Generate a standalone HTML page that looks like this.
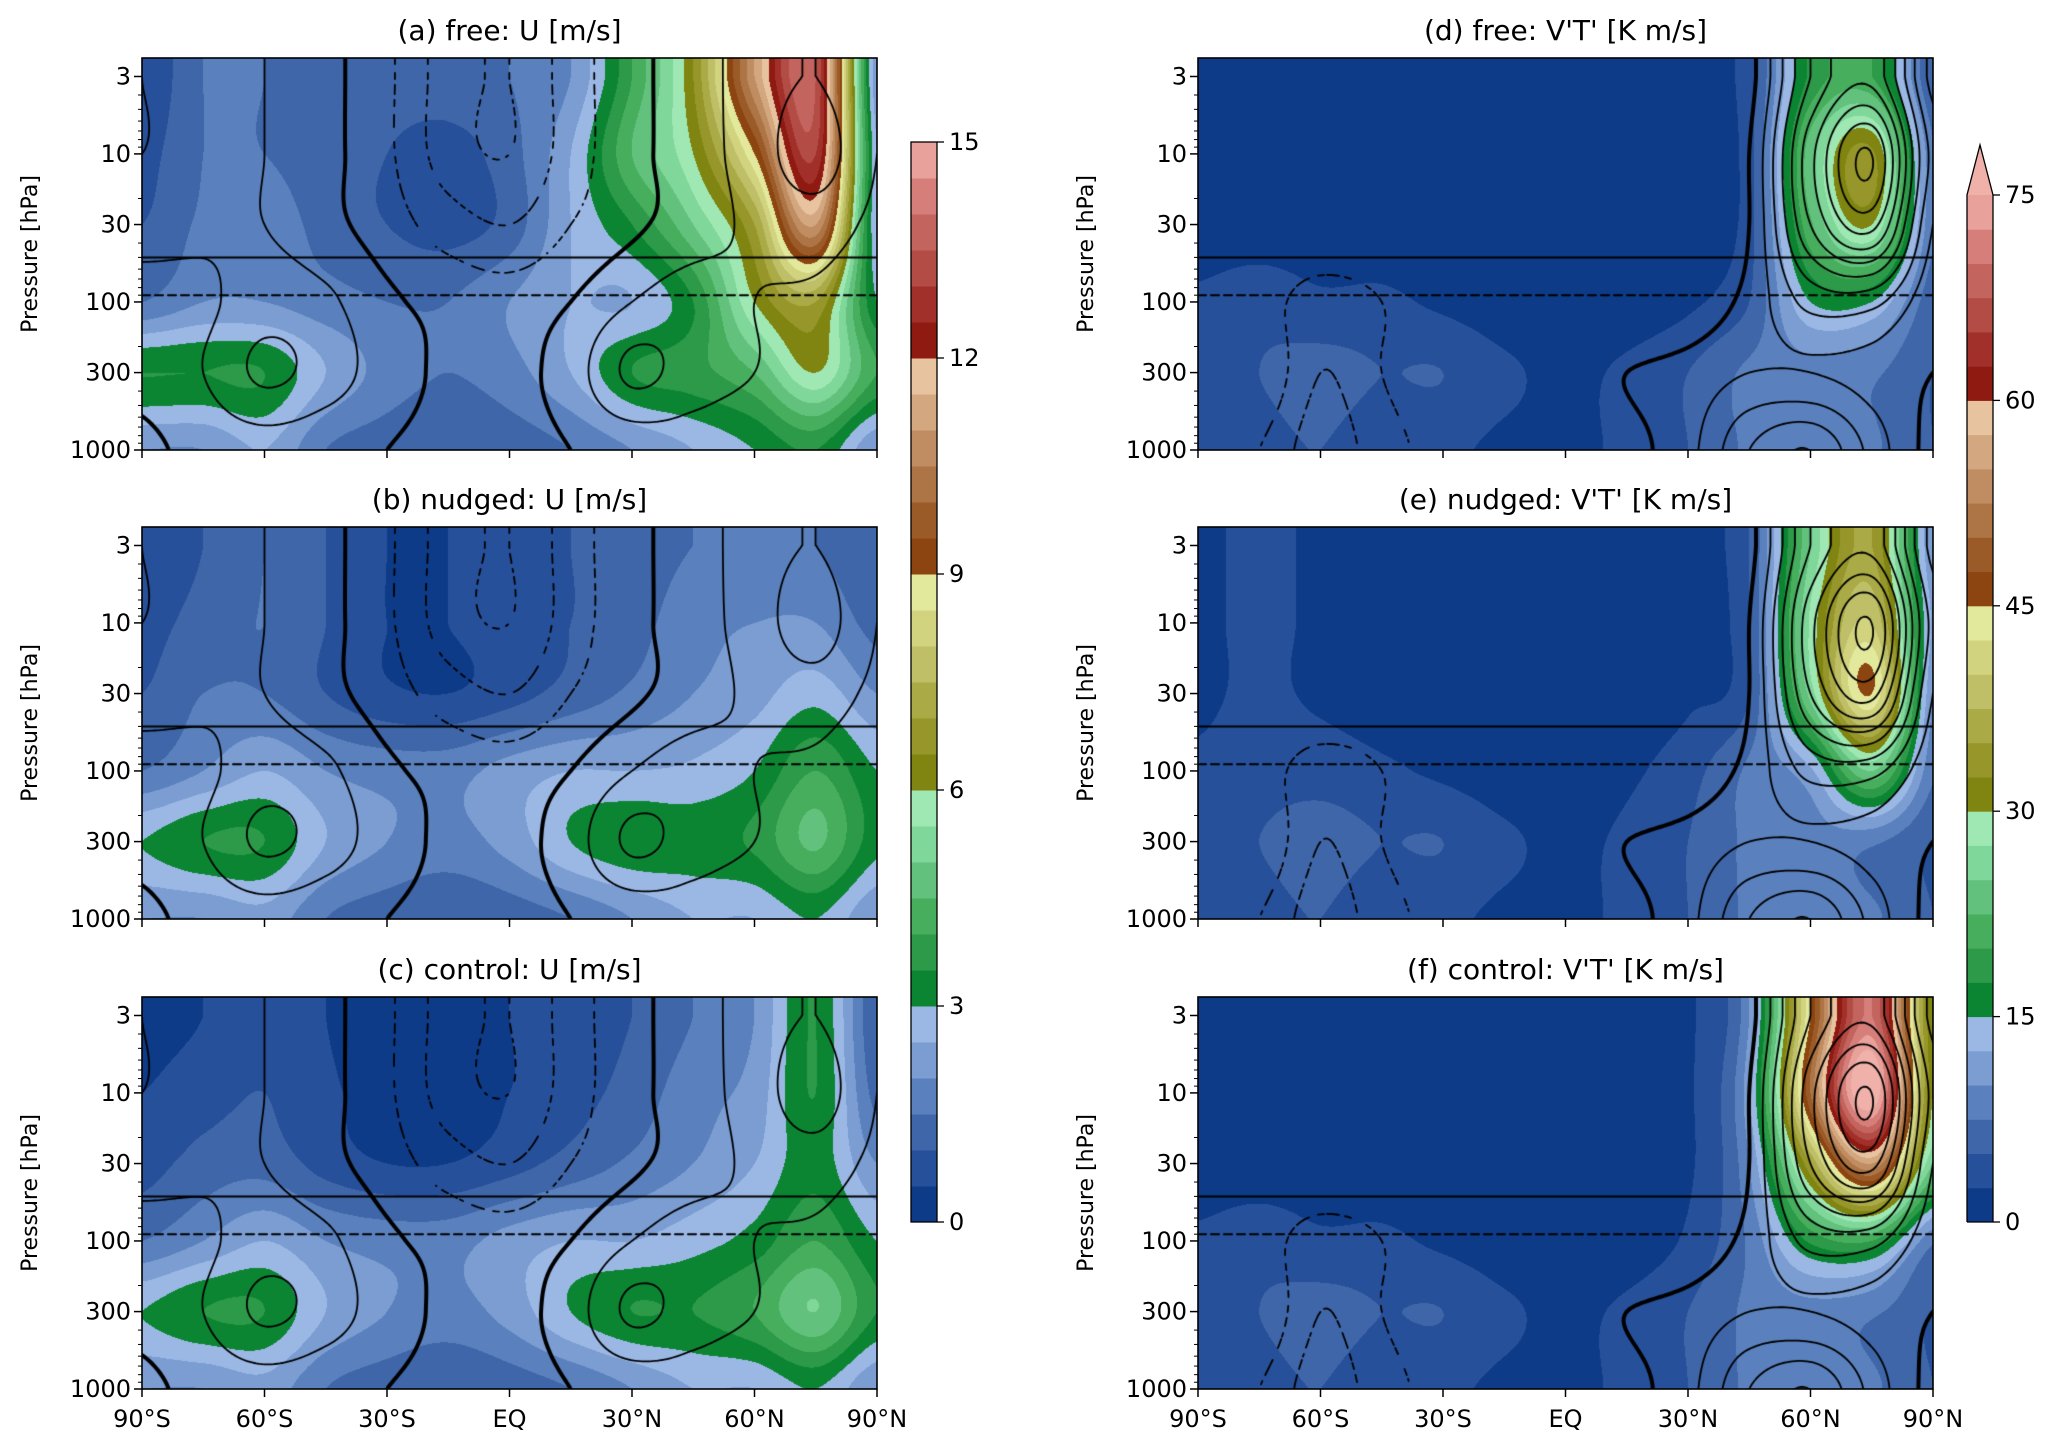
<!DOCTYPE html>
<html><head><meta charset="utf-8">
<style>
body{margin:0;background:#fff;width:2067px;height:1450px;overflow:hidden;position:relative;font-family:"DejaVu Sans","Liberation Sans",sans-serif;}
canvas{position:absolute;}
svg{position:absolute;left:0;top:0;font-family:"DejaVu Sans","Liberation Sans",sans-serif;}
</style></head>
<body>
<canvas id="ca"></canvas>
<canvas id="cb"></canvas>
<canvas id="cc"></canvas>
<canvas id="cd"></canvas>
<canvas id="ce"></canvas>
<canvas id="cf"></canvas>
<svg id="ov" width="2067" height="1450"></svg>
<script>
// ---- data: grids [pressure level][latitude] ----
const lats = [-90,-75,-60,-45,-30,-15,0,15,30,45,60,75,90];
const levels = [3,10,30,100,300,1000];
const xTickLabels = ["90°S","60°S","30°S","EQ","30°N","60°N","90°N"];
const yTickValues = [3,10,30,100,300,1000];
const cbarUTicks = [0,3,6,9,12,15];
const cbarVTTicks = [0,15,30,45,60,75];

const fillA = [
 [0.5,1.5,1.5,1.2,1.2,1.3,1.5,2,4,6.5,11,13.5,2],
 [0.8,1.5,1.5,1.2,1.0,0.8,1.3,2.5,4.5,6,9,13,2.5],
 [1,1.6,1.8,1.3,1,0.8,1.2,2.5,3.5,5,7,11,2.5],
 [1.5,2,2,1.7,1.5,1.5,2,2.5,2.5,3.5,6,7,3],
 [3.5,3.5,3.5,2.5,1.8,1.5,1.8,2.5,3.5,3.8,4.5,6,4],
 [2,2,2.5,1.5,1.2,1.0,1.2,1.5,2,2.5,3,3.5,2]];
const fillB = [
 [0.5,1,1.5,1,0.5,0.5,0.8,1,1.2,1.5,1.5,1.5,1],
 [0.8,1.2,1.5,1,0.5,0.5,0.8,1,1.3,1.8,2,2,1.3],
 [1,1.5,1.5,1,0.6,0.5,0.8,1.2,1.6,2,2.3,2.8,2],
 [1.5,2,2.5,2,1.8,1.8,2.2,2.5,2.5,2.6,3.0,4.0,3],
 [3,3.5,3.5,2.5,2,1.8,2.2,3,3.4,3.3,3.6,4.6,3.2],
 [2,2,2.3,1.5,1.2,1,1.2,1.5,2,2.5,2.5,3,2]];
const fillC = [
 [0.3,0.5,1,0.5,0.3,0.3,0.5,0.8,1,1.5,2,3.5,1],
 [0.5,0.8,1,0.6,0.3,0.3,0.5,0.8,1.2,1.8,2.2,3.5,1.3],
 [0.8,1.2,1.3,0.8,0.5,0.5,0.8,1.2,1.6,2,2.5,3.3,2],
 [1.5,2,2.5,2,1.8,1.8,2.2,2.5,2.5,2.8,3.2,4,3],
 [3,3.5,3.5,2.5,2,1.8,2.2,3,3.5,3.5,4,5,3.5],
 [2,2,2.3,1.5,1.2,1,1.2,1.5,2,2.5,2.5,3,2]];
const fillD = [
 [1,1,1,1,1,1,1,1,1,4,18,20,5],
 [1,1,1,1,1,1,1,1,1,4,24,33,8],
 [1,1,1,1,1,1,1,1,1,4,22,30,8],
 [3,4,3,3,2,1,1,1,2,5,15,15,6],
 [4,5,6,5,5,3,2,3,5,8,9,8,5],
 [3,4,5,3,3,2,2,3,5,8,10,8,5]];
const fillE = [
 [2,3,2,1,1,1,1,1,2,5,25,35,10],
 [2,3,2,1,1,1,1,1,2,5,28,40,12],
 [2,3,2,1,1,1,1,1,2,5,26,45,10],
 [3,4,4,3,2,1,1,2,4,8,12,25,8],
 [4,5,6,5,5,3,2,3,5,8,9,8,5],
 [3,4,5,3,3,2,2,3,5,8,10,8,5]];
const fillF = [
 [1,1,1,1,1,1,1,1,2,10,45,70,30],
 [1,1,1,1,1,1,1,1,2,12,50,78,30],
 [1,1,1,1,1,1,1,1,2,10,35,55,25],
 [3,4,3,3,2,1,1,1,3,8,18,20,8],
 [4,5,6,5,5,3,2,3,5,8,9,8,5],
 [3,4,5,3,3,2,2,3,5,8,10,8,5]];
const lineU = [
 [20,15,10,3,-8,-25,-30,-15,-3,5,15,20,10],
 [20,15,10,3,-8,-25,-30,-15,-3,5,15,25,10],
 [15,12,10,3,-5,-15,-20,-10,-2,5,12,15,8],
 [5,8,15,12,2,-3,-5,0,10,15,10,8,3],
 [3,10,22,15,5,-2,-3,5,22,15,10,5,2],
 [-2,3,5,3,0,-3,-4,0,3,5,3,2,0]];
const lineVT = [
 [0,0,0,0,0,0,0,0,0,2,15,20,5],
 [0,0,0,0,0,0,0,0,0,3,20,30,8],
 [0,0,0,0,0,0,0,0,0,3,18,25,6],
 [0,-1,-3,-2,0,0,0,0,1,4,10,10,4],
 [1,0,-4,-2,0,1,2,3,4,6,6,5,3],
 [0,-2,-5,-3,-1,0,0,2,5,12,15,8,2]];
const levelsU = [-40,-30,-20,-10,0,10,20,30];
const levelsVT = [-4,-2,3,6,9,12,15,18,21,24,27,30];

const colors = ["#0d3b87","#27509a","#3f66a8","#5a81bd","#7b9dd2","#9bb8e5",
 "#0c8533","#2c9a48","#47ae5e","#62c27d","#7fd799","#9fe8b3",
 "#808410","#96962a","#aaab47","#bebf67","#d1d37f","#e2e89c",
 "#8c4510","#9b5b28","#ad7545","#c08c62","#d3a77f","#e8c39f",
 "#8e1a12","#a2302a","#b44c46","#c4645e","#d67e7a","#e9a19c"];
const extendColor = "#f0b1aa";

// ---- geometry ----
const PW=735, PH=392, LX=142, RX=1198, ROWS=[58,527,997];
const PTOP=2.25, PBOT=1000;
const SVGNS="http://www.w3.org/2000/svg";
const ov=document.getElementById('ov');
function yOf(p,y0){return y0+(Math.log10(p)-Math.log10(PTOP))/(Math.log10(PBOT)-Math.log10(PTOP))*PH;}
function xOf(lat,x0){return x0+(lat+90)/180*PW;}
function hexToRgb(h){return [parseInt(h.substr(1,2),16),parseInt(h.substr(3,2),16),parseInt(h.substr(5,2),16)];}
const rgb=colors.map(hexToRgb), extRgb=hexToRgb(extendColor);
function cr(p0,p1,p2,p3,t){return 0.5*((2*p1)+(-p0+p2)*t+(2*p0-5*p1+4*p2-p3)*t*t+(-p0+3*p1-3*p2+p3)*t*t*t);}
function rowIndex(p){const lp=Math.log10(p);const L=levels.map(Math.log10);
 if(lp<=L[0])return 0; for(let k=0;k<L.length-1;k++){if(lp<=L[k+1])return k+(lp-L[k])/(L[k+1]-L[k]);} return L.length-1;}
function sample(g,lat,p){
 const fi=(lat+90)/15, fj=rowIndex(p);
 const nr=g.length,nc=g[0].length;
 const i=Math.max(0,Math.min(Math.floor(fi),nc-2)), j=Math.max(0,Math.min(Math.floor(fj),nr-2));
 const ti=fi-i,tj=fj-j;
 const ci=k=>Math.max(0,Math.min(nc-1,k)), cj=k=>Math.max(0,Math.min(nr-1,k));
 const rows=[];
 for(let dj=-1;dj<=2;dj++){const r=g[cj(j+dj)];rows.push(cr(r[ci(i-1)],r[ci(i)],r[ci(i+1)],r[ci(i+2)],ti));}
 return cr(rows[0],rows[1],rows[2],rows[3],tj);
}
function el(tag,attrs,txt){const e=document.createElementNS(SVGNS,tag);for(const k in attrs)e.setAttribute(k,attrs[k]);if(txt!==undefined)e.textContent=txt;ov.appendChild(e);return e;}

function drawPanel(id,x0,y0,fill,step,line,lvls){
 const c=document.getElementById(id);c.width=PW;c.height=PH;c.style.left=x0+'px';c.style.top=y0+'px';
 const ctx=c.getContext('2d');const img=ctx.createImageData(PW,PH);
 const P=[];for(let y=0;y<PH;y++){P.push(Math.pow(10,Math.log10(PTOP)+(y+0.5)/PH*(Math.log10(PBOT)-Math.log10(PTOP))));}
 for(let y=0;y<PH;y++)for(let x=0;x<PW;x++){
  const lat=-90+(x+0.5)/PW*180;const v=sample(fill,lat,P[y]);
  let col; if(v>=step*30)col=extRgb; else col=rgb[Math.max(0,Math.min(29,Math.floor(v/step)))];
  const o=(y*PW+x)*4;img.data[o]=col[0];img.data[o+1]=col[1];img.data[o+2]=col[2];img.data[o+3]=255;}
 ctx.putImageData(img,0,0);
 const s=3,nx=Math.ceil(PW/s)+1,ny=Math.ceil(PH/s)+1;const V=[];
 for(let j=0;j<ny;j++){const row=[];const yy=Math.min(PH,j*s);const p=Math.pow(10,Math.log10(PTOP)+yy/PH*(Math.log10(PBOT)-Math.log10(PTOP)));
  for(let i=0;i<nx;i++){row.push(sample(line,-90+Math.min(PW,i*s)/PW*180,p));}V.push(row);}
 ctx.strokeStyle='#000';ctx.lineCap='round';
 const thickLv=lvls.find(v=>v>=0);
 lvls.forEach(lv=>{
  ctx.lineWidth=(lv===thickLv)?4:1.8;
  ctx.beginPath();
  for(let j=0;j<ny-1;j++){for(let i=0;i<nx-1;i++){
   const a=V[j][i],b=V[j][i+1],cc=V[j+1][i+1],d=V[j+1][i];const pts=[];
   const X=i*s,Y=j*s;
   if((a-lv)*(b-lv)<0)pts.push([X+s*(lv-a)/(b-a),Y]);
   if((b-lv)*(cc-lv)<0)pts.push([X+s,Y+s*(lv-b)/(cc-b)]);
   if((d-lv)*(cc-lv)<0)pts.push([X+s*(lv-d)/(cc-d),Y+s]);
   if((a-lv)*(d-lv)<0)pts.push([X,Y+s*(lv-a)/(d-a)]);
   for(let k=0;k+1<pts.length;k+=2){
    const mx=(pts[k][0]+pts[k+1][0])/2,my=(pts[k][1]+pts[k+1][1])/2;
    if(lv<0&&((Math.floor(mx/7)+Math.floor(my/7))%2===1))continue;
    ctx.moveTo(pts[k][0],pts[k][1]);ctx.lineTo(pts[k+1][0],pts[k+1][1]);}
  }}
  ctx.stroke();
 });
 ctx.lineWidth=2;ctx.setLineDash([]);ctx.beginPath();const y50=yOf(50,0);ctx.moveTo(0,y50);ctx.lineTo(PW,y50);ctx.stroke();
 ctx.setLineDash([8,5]);ctx.beginPath();const y90=yOf(90,0);ctx.moveTo(0,y90);ctx.lineTo(PW,y90);ctx.stroke();ctx.setLineDash([]);
}

function drawAxes(x0,y0,title,bottom,key){
 const f=el('rect',{x:x0,y:y0,width:PW,height:PH,fill:'none',stroke:'#000','stroke-width':1.6});
 
 
 const t=el('text',{x:x0+PW/2,y:y0-18,'font-size':28,'text-anchor':'middle'},title);
 
 
 yTickValues.forEach(p=>{const y=yOf(p,y0);el('line',{x1:x0-8,x2:x0,y1:y,y2:y,stroke:'#000','stroke-width':1.5});
  const l=el('text',{x:x0-11,y:y+8,'font-size':24,'text-anchor':'end'},String(p));
  
  });
 for(let dec=1;dec<=1000;dec*=10)for(let m=2;m<=9;m++){const p=dec*m;if(p<PTOP||p>PBOT||yTickValues.includes(p))continue;
  const y=yOf(p,y0);el('line',{x1:x0-4,x2:x0,y1:y,y2:y,stroke:'#000','stroke-width':1});}
 const yl=el('text',{x:0,y:0,'font-size':22,'text-anchor':'middle',transform:`translate(${x0-105},${y0+PH/2}) rotate(-90)`},'Pressure [hPa]');
 
 
 xTickLabels.forEach((lab,k)=>{const x=xOf(-90+30*k,x0);el('line',{x1:x,x2:x,y1:y0+PH,y2:y0+PH+8,stroke:'#000','stroke-width':1.5});
  if(bottom){const l=el('text',{x:x,y:y0+PH+38,'font-size':24,'text-anchor':'middle'},lab);
   
   }});
}

function drawCbar(x,y0,y1,ticks,vmax,extend,key){
 const h=y1-y0;
 colors.forEach((c,k)=>{const r=el('rect',{x:x,y:y1-(k+1)*h/30,width:26,height:h/30+0.5,fill:c});
  
  });
 if(extend){const tr=el('polygon',{points:`${x},${y0} ${x+26},${y0} ${x+13},${y0-50}`,fill:extendColor,stroke:'none'});
  
  
  el('polyline',{points:`${x},${y1} ${x},${y0} ${x+13},${y0-50} ${x+26},${y0} ${x+26},${y1} ${x},${y1}`,fill:'none',stroke:'#000','stroke-width':1.3});}
 else el('rect',{x:x,y:y0,width:26,height:h,fill:'none',stroke:'#000','stroke-width':1.3});
 ticks.forEach(v=>{const y=y1-v/vmax*h;el('line',{x1:x+26,x2:x+33,y1:y,y2:y,stroke:'#000','stroke-width':1.3});
  const l=el('text',{x:x+38,y:y+8,'font-size':24},String(v));
  
  });
}

drawPanel('ca',LX,ROWS[0],fillA,0.5,lineU,levelsU);
drawPanel('cb',LX,ROWS[1],fillB,0.5,lineU,levelsU);
drawPanel('cc',LX,ROWS[2],fillC,0.5,lineU,levelsU);
drawPanel('cd',RX,ROWS[0],fillD,2.5,lineVT,levelsVT);
drawPanel('ce',RX,ROWS[1],fillE,2.5,lineVT,levelsVT);
drawPanel('cf',RX,ROWS[2],fillF,2.5,lineVT,levelsVT);
drawAxes(LX,ROWS[0],'(a) free: U [m/s]',false,'panel-a');
drawAxes(LX,ROWS[1],'(b) nudged: U [m/s]',false,'panel-b');
drawAxes(LX,ROWS[2],'(c) control: U [m/s]',true,'panel-c');
drawAxes(RX,ROWS[0],"(d) free: V'T' [K m/s]",false,'panel-d');
drawAxes(RX,ROWS[1],"(e) nudged: V'T' [K m/s]",false,'panel-e');
drawAxes(RX,ROWS[2],"(f) control: V'T' [K m/s]",true,'panel-f');
drawCbar(911,142,1222,cbarUTicks,15,false,'colorbar-u');
drawCbar(1967,195,1222,cbarVTTicks,75,true,'colorbar-vt');
</script>
</body></html>
